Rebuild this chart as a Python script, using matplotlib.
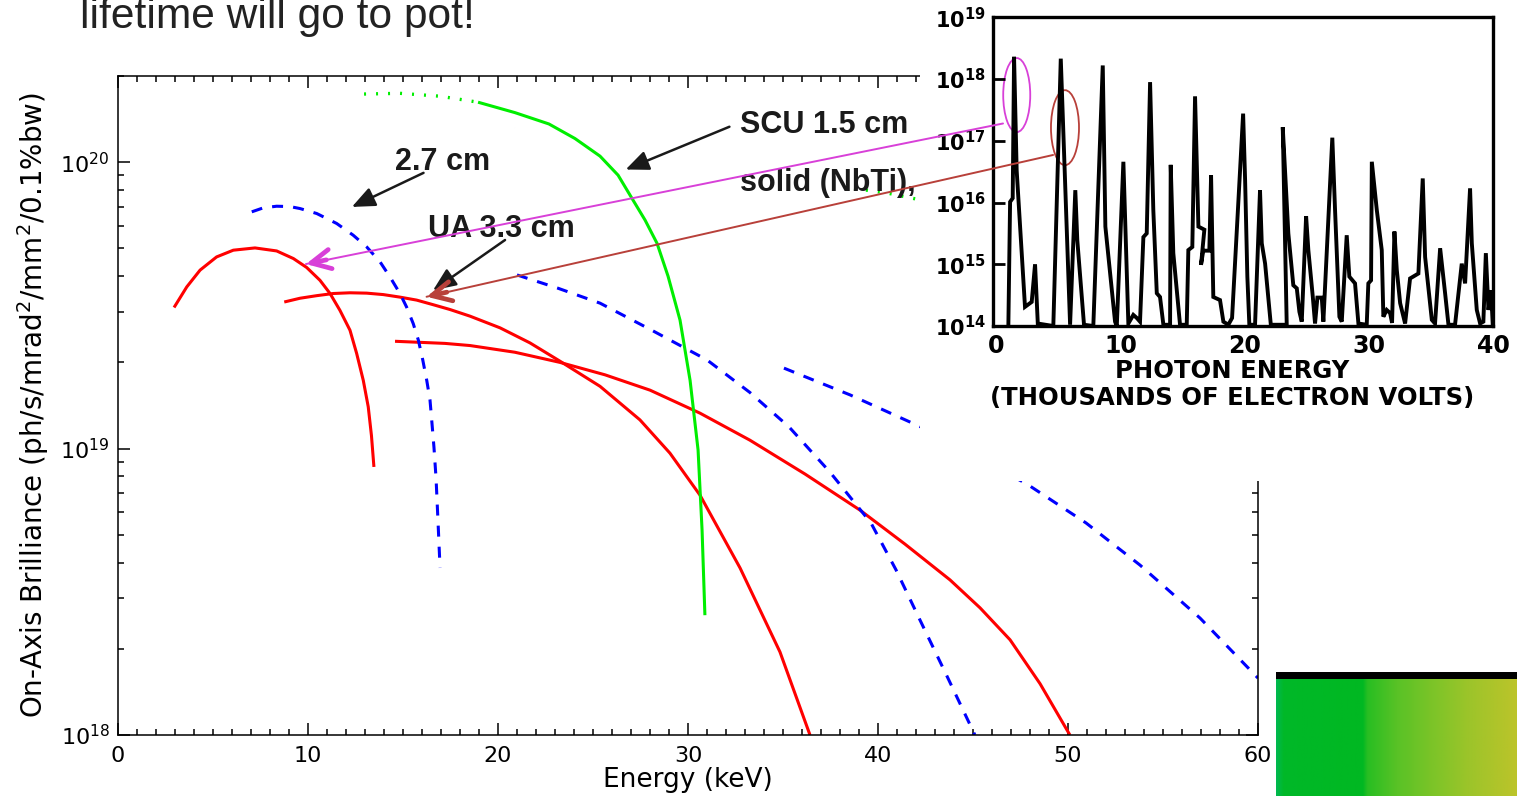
import numpy as np
import matplotlib
matplotlib.use('Agg')
import matplotlib.pyplot as plt
from matplotlib.patches import Rectangle, Ellipse, ConnectionPatch
from matplotlib.colors import LinearSegmentedColormap
from matplotlib.ticker import MultipleLocator, LogLocator, NullFormatter, FixedLocator, FixedFormatter

W, H, DPI = 1517, 796, 100

# ---------------- main chart data (energy keV, brilliance) ----------------
ua_h1_E = [2.95, 3.62, 4.32, 5.19, 6.07, 7.21, 8.35, 9.23, 9.93, 10.63, 11.16, 11.68, 12.21, 12.56,
           12.91, 13.17, 13.34, 13.47]
ua_h1_B = [3.11e19, 3.67e19, 4.20e19, 4.67e19, 4.93e19, 5.02e19, 4.90e19, 4.61e19, 4.29e19, 3.87e19,
           3.48e19, 3.04e19, 2.59e19, 2.15e19, 1.73e19, 1.40e19, 1.11e19, 8.63e18]

ua_h3_E = [8.75, 9.58, 10.46, 11.33, 12.21, 13.09, 13.96, 14.84, 15.72, 16.59, 17.47, 18.53, 20.11,
           21.68, 23.26, 25.37, 27.47, 29.05, 30.63, 32.74, 34.84, 36.42]
ua_h3_B = [3.25e19, 3.35e19, 3.42e19, 3.48e19, 3.50e19, 3.49e19, 3.45e19, 3.38e19, 3.30e19, 3.18e19,
           3.06e19, 2.90e19, 2.64e19, 2.34e19, 2.02e19, 1.65e19, 1.26e19, 9.64e18, 6.88e18, 3.83e18,
           1.95e18, 1.0e18]

ua_h5_E = [14.58, 15.89, 17.21, 18.53, 20.89, 23.26, 25.63, 28.0, 30.63, 33.26, 36.16, 39.05, 41.42,
           43.79, 45.37, 46.95, 48.53, 50.1]
ua_h5_B = [2.37e19, 2.35e19, 2.33e19, 2.29e19, 2.17e19, 2.00e19, 1.81e19, 1.60e19, 1.33e19, 1.07e19,
           8.15e18, 6.10e18, 4.64e18, 3.48e18, 2.78e18, 2.15e18, 1.51e18, 1.0e18]

u27_h1_E = [7.04, 7.65, 8.35, 9.05, 9.58, 10.46, 11.51, 12.38, 13.09, 13.79, 14.32, 14.84, 15.19,
            15.54, 15.81, 16.04, 16.25, 16.42, 16.51, 16.63, 16.74, 16.84, 16.95]
u27_h1_B = [6.71e19, 6.93e19, 7.02e19, 7.00e19, 6.89e19, 6.62e19, 6.11e19, 5.56e19, 5.06e19, 4.49e19,
            3.97e19, 3.48e19, 3.12e19, 2.73e19, 2.39e19, 2.04e19, 1.73e19, 1.48e19, 1.26e19, 1.01e19,
            7.87e18, 5.62e18, 3.83e18]

u27_h3_E = [21.0, 23.16, 25.37, 28.0, 31.0, 33.26, 35.32, 37.47, 39.63, 40.95, 42.21, 43.68, 45.1]
u27_h3_B = [4.04e19, 3.63e19, 3.22e19, 2.61e19, 2.04e19, 1.57e19, 1.19e19, 8.28e18, 5.50e18, 3.77e18,
            2.52e18, 1.58e18, 1.0e18]

u27_h5_E = [35.05, 38.53, 42.26, 47.84, 50.95, 53.79, 56.95, 60.0]
u27_h5_B = [1.91e19, 1.54e19, 1.19e19, 7.52e18, 5.5e18, 3.92e18, 2.56e18, 1.58e18]

scu_dot_E = [12.95, 14.84, 16.95, 18.95]
scu_dot_B = [1.73e20, 1.74e20, 1.70e20, 1.62e20]
scu_E = [18.95, 20.89, 22.68, 24.05, 25.37, 26.32, 27.05, 27.74, 28.37, 28.95, 29.58, 30.11, 30.53,
         30.74, 30.89]
scu_B = [1.62e20, 1.49e20, 1.36e20, 1.21e20, 1.05e20, 9.01e19, 7.48e19, 6.28e19, 5.21e19, 4.00e19,
         2.81e19, 1.73e19, 9.89e18, 5.20e18, 2.62e18]

scu_h3_dot_E = [38.74, 40.5, 42.3]
scu_h3_dot_B = [8.1e19, 7.8e19, 7.37e19]

# ---------------- inset spectrum (photon energy keV, log10 flux) ----------------
inset_E = [0.96, 1.10, 1.31, 1.42, 1.63, 2.30, 2.84, 3.11, 3.33, 4.58, 5.18, 5.93, 6.35, 6.51, 7.05,
           7.80, 8.56, 8.77, 9.55, 9.69, 10.22, 10.62, 11.02, 11.30, 11.56, 11.83, 12.10, 12.37, 12.63,
           12.91, 13.17, 13.44, 13.98, 14.03, 14.24, 14.78, 15.32, 15.45, 15.77, 15.99, 16.26, 16.74,
           16.47, 16.65, 17.14, 17.28, 17.46, 18.00, 18.27, 18.67, 18.97, 19.86, 20.02, 20.20, 20.36,
           20.82, 21.22, 21.36, 21.63, 22.09, 23.37, 23.05, 23.50, 23.90, 24.18, 24.39, 24.58, 24.93,
           25.11, 25.47, 25.65, 25.84, 26.19, 26.32, 27.04, 27.26, 27.61, 27.80, 28.20, 28.41, 28.87,
           29.14, 29.81, 29.94, 30.16, 30.22, 30.62, 31.02, 31.15, 31.42, 31.69, 31.85, 32.04, 32.23,
           32.50, 32.90, 33.30, 33.97, 34.32, 34.51, 35.05, 35.31, 35.72, 36.12, 36.39, 36.92, 37.46,
           37.73, 38.13, 38.27, 38.67, 38.94, 39.20, 39.40, 39.61, 39.82, 39.95]
inset_logF = [14.0, 16.01, 16.07, 18.36, 16.52, 14.31, 14.39, 15.00, 14.04, 14.0, 18.33, 14.02, 16.20,
              15.39, 14.02, 14.0, 18.22, 15.61, 14.07, 14.0, 16.66, 14.04, 14.18, 14.13, 14.07, 15.44,
              15.50, 17.95, 15.88, 14.53, 14.47, 14.02, 14.02, 16.61, 15.18, 14.02, 14.02, 15.23, 15.28,
              17.72, 15.61, 15.56, 14.99, 15.22, 15.22, 16.44, 14.47, 14.42, 14.07, 14.02, 14.13, 17.44,
              16.36, 14.80, 14.02, 14.02, 16.20, 15.34, 15.01, 14.02, 14.02, 17.22, 15.50, 14.66, 14.61,
              14.23, 14.07, 15.78, 15.23, 14.47, 14.04, 14.46, 14.46, 14.07, 17.05, 15.88, 14.15, 14.07,
              15.47, 14.80, 14.69, 14.04, 14.02, 14.69, 14.74, 16.66, 15.88, 15.23, 14.15, 14.26, 14.21,
              14.05, 15.53, 14.91, 14.37, 14.04, 14.77, 14.85, 16.39, 15.12, 14.10, 14.04, 15.26, 14.53,
              14.02, 14.02, 15.01, 14.69, 16.23, 15.34, 14.26, 14.04, 14.07, 15.18, 14.26, 14.58, 14.04]

inset_ticks = [14, 15, 16, 17, 18, 19]
inset_xticks = [0, 10, 20, 30, 40]

RED, BLUE, GREEN = '#ff0000', '#0000ff', '#00ee00'
MAGENTA, BROWN, DARK = '#d840d8', '#b8403a', '#1a1a1a'

fig = plt.figure(figsize=(W / DPI, H / DPI), dpi=DPI)
fig.patch.set_facecolor('white')

# ---------------- main axes ----------------
ax = fig.add_axes([118 / W, 1 - 735 / H, 1140 / W, 659 / H])
ax.set_yscale('log')
ax.set_xlim(0, 60)
ax.set_ylim(1e18, 2.0e20)

dash = (0, (3.6, 3.3))
dot = (0, (0.6, 3.0))
lkw = dict(lw=2.2, solid_capstyle='butt', dash_capstyle='butt')
ax.plot(ua_h1_E, ua_h1_B, color=RED, **lkw)
ax.plot(ua_h3_E, ua_h3_B, color=RED, **lkw)
ax.plot(ua_h5_E, ua_h5_B, color=RED, **lkw)
ax.plot(u27_h1_E, u27_h1_B, color=BLUE, ls=dash, **lkw)
ax.plot(u27_h3_E, u27_h3_B, color=BLUE, ls=dash, **lkw)
ax.plot(u27_h5_E, u27_h5_B, color=BLUE, ls=dash, **lkw)
ax.plot(scu_dot_E, scu_dot_B, color=GREEN, lw=2.4, ls=dot)
ax.plot(scu_E, scu_B, color=GREEN, **lkw)
ax.plot(scu_h3_dot_E, scu_h3_dot_B, color=GREEN, lw=2.4, ls=dot)

ax.xaxis.set_major_locator(MultipleLocator(10))
ax.xaxis.set_minor_locator(MultipleLocator(1))
ax.yaxis.set_major_locator(LogLocator(base=10))
ax.yaxis.set_minor_locator(LogLocator(base=10, subs=np.arange(2, 10)))
ax.yaxis.set_minor_formatter(NullFormatter())
ax.tick_params(which='both', direction='in', top=True, right=True, width=1.1, colors='black')
ax.tick_params(which='major', length=8.6)
ax.tick_params(which='minor', length=4.3)
ax.tick_params(axis='x', which='major', labelsize=16, pad=8)
ax.tick_params(axis='y', which='major', labelsize=16, pad=6)
for s in ax.spines.values():
    s.set_linewidth(1.1)

fig.text(688 / W, 1 - 780 / H, 'Energy (keV)', ha='center', va='center', fontsize=19)
fig.text(33 / W, 1 - 405 / H, 'On-Axis Brilliance (ph/s/mrad$^2$/mm$^2$/0.1%bw)',
         ha='center', va='center', rotation=90, fontsize=20)

# text annotations
tkw = dict(fontsize=22, fontweight='bold', family='Liberation Sans', color=DARK, va='baseline', ha='left')
ax.text(32.74, 1.26e20, 'SCU 1.5 cm', **tkw)
ax.text(32.74, 7.94e19, 'solid (NbTi),', **tkw)
ax.text(14.58, 9.38e19, '2.7 cm', **tkw)
ax.text(16.32, 5.46e19, 'UA 3.3 cm', **tkw)

akw = dict(arrowstyle='-|>,head_length=0.7,head_width=0.3', mutation_scale=20, lw=1.8,
           color=DARK, shrinkA=0, shrinkB=0)
ax.annotate('', xy=(26.72, 9.43e19), xytext=(32.18, 1.33e20), arrowprops=akw)
ax.annotate('', xy=(12.31, 6.98e19), xytext=(16.08, 9.18e19), arrowprops=akw)
ax.annotate('', xy=(16.58, 3.57e19), xytext=(20.37, 5.35e19), arrowprops=akw)

# ---------------- white cover + inset ----------------
fig.add_artist(Rectangle((920 / W, 1 - 481 / H), 1 - 920 / W, 481 / H, transform=fig.transFigure,
                         facecolor='white', edgecolor='none', zorder=1))

ins = fig.add_axes([992.7 / W, 1 - 326 / H, 500.6 / W, 308.7 / H], zorder=2)
ins.set_yscale('log')
ins.set_xlim(-0.3, 40)
ins.set_ylim(1e14, 1e19)
ins.plot(inset_E, 10.0 ** np.array(inset_logF), color='black', lw=2.8, solid_joinstyle='miter')
ins.yaxis.set_major_locator(FixedLocator([10.0 ** k for k in inset_ticks]))
ins.yaxis.set_major_formatter(FixedFormatter([r'$\mathbf{10^{%d}}$' % k for k in inset_ticks]))
ins.yaxis.set_minor_locator(FixedLocator([]))
ins.xaxis.set_major_locator(FixedLocator(inset_xticks))
ins.xaxis.set_major_formatter(FixedFormatter([str(v) for v in inset_xticks]))
ins.tick_params(axis='y', direction='in', length=8.6, width=2.0, labelsize=15, pad=5)
ins.tick_params(axis='x', length=0, labelsize=17, pad=6)
for lab in ins.get_xticklabels():
    lab.set_fontweight('bold')
for s in ins.spines.values():
    s.set_linewidth(2.4)
ins.text(0.478, -0.19, 'PHOTON ENERGY\n(THOUSANDS OF ELECTRON VOLTS)', transform=ins.transAxes,
         ha='center', va='center', fontsize=17.5, fontweight='bold', linespacing=1.15)

ins.add_patch(Ellipse((0.048, 0.748), 0.054, 0.24, transform=ins.transAxes, fill=False,
                      edgecolor=MAGENTA, lw=1.3, clip_on=False))
ins.add_patch(Ellipse((0.1444, 0.6424), 0.056, 0.243, transform=ins.transAxes, fill=False,
                      edgecolor=BROWN, lw=1.3, clip_on=False))

# connecting lines from inset peaks to main curves
fig.add_artist(ConnectionPatch(xyA=(0.53, 10 ** 17.28), coordsA=ins.transData,
                               xyB=(9.89, 4.41e19), coordsB=ax.transData,
                               color=MAGENTA, lw=1.4, zorder=5))
fig.add_artist(ConnectionPatch(xyA=(4.56, 10 ** 16.77), coordsA=ins.transData,
                               xyB=(16.24, 3.39e19), coordsB=ax.transData,
                               color=BROWN, lw=1.4, zorder=5))
ax.annotate('', xy=(9.89, 4.41e19), xytext=(14.7, 3.0), textcoords='offset points',
            arrowprops=dict(arrowstyle='->,head_length=0.7,head_width=0.35', mutation_scale=20,
                            lw=3.4, color=MAGENTA, shrinkA=0, shrinkB=0))
ax.annotate('', xy=(16.24, 3.39e19), xytext=(14.6, 3.3), textcoords='offset points',
            arrowprops=dict(arrowstyle='->,head_length=0.7,head_width=0.35', mutation_scale=20,
                            lw=3.4, color=BROWN, shrinkA=0, shrinkB=0))

# ---------------- slide decorations ----------------
fig.text(80 / W, 1 - 28 / H, 'lifetime will go to pot!', fontsize=30.6, family='Liberation Sans',
         color='#222222', va='baseline', ha='left')

gcmap = LinearSegmentedColormap.from_list('g', [(0.0, '#00b850'), (0.03, '#00b828'), (0.36, '#00b822'),
                                                (0.38, '#28be22'), (0.5, '#58c226'), (0.65, '#7cc428'),
                                                (0.8, '#9cc42a'), (1.0, '#bcc42a')])
gax = fig.add_axes([1276 / W, 0, (W - 1276) / W, (796 - 679) / H], zorder=6)
gax.imshow(np.linspace(0, 1, 256)[None, :], aspect='auto', cmap=gcmap, extent=(0, 1, 0, 1))
gax.set_axis_off()
fig.add_artist(Rectangle((1276 / W, 1 - 679 / H), 1 - 1276 / W, 7 / H, transform=fig.transFigure,
                         facecolor='black', edgecolor='none', zorder=6))

fig.savefig('out.png', dpi=DPI)
